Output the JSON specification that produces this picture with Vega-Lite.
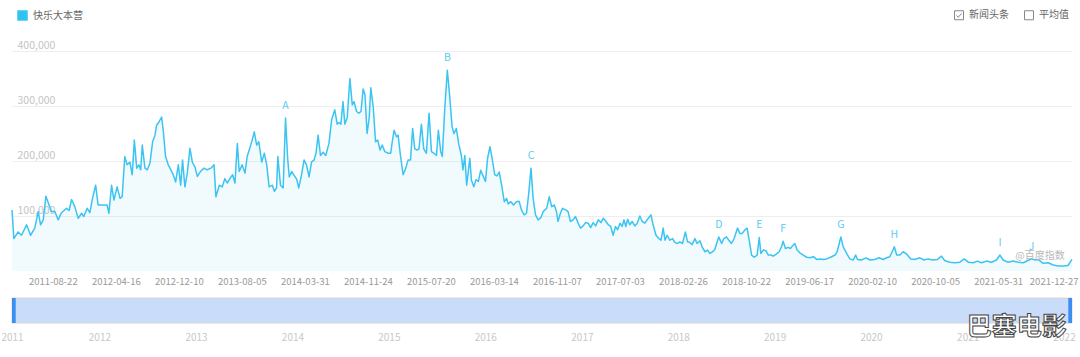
{
  "$schema": "https://vega.github.io/schema/vega-lite/v6.json",
  "background": "white",
  "padding": {"left": 0, "top": 10, "right": 0, "bottom": 0},
  "config": {
    "font": "Noto Sans CJK SC",
    "view": {"stroke": null},
    "concat": {"spacing": 11}
  },
  "resolve": {"scale": {"x": "independent", "y": "independent"}},
  "datasets": {
    "weekly": [
      {"date":"2011-03-21","value":111000},{"date":"2011-03-28","value":59000},{"date":"2011-04-13","value":71000},{"date":"2011-04-26","value":65000},{"date":"2011-05-15","value":84000},{"date":"2011-05-30","value":65000},{"date":"2011-06-15","value":78000},{"date":"2011-06-28","value":108000},{"date":"2011-07-07","value":84000},{"date":"2011-07-17","value":93000},{"date":"2011-07-27","value":136000},{"date":"2011-08-08","value":120000},{"date":"2011-08-17","value":108000},{"date":"2011-08-30","value":108000},{"date":"2011-09-11","value":93000},{"date":"2011-09-24","value":106000},{"date":"2011-10-13","value":114000},{"date":"2011-10-23","value":110000},{"date":"2011-11-01","value":130000},{"date":"2011-11-13","value":117000},{"date":"2011-11-26","value":96000},{"date":"2011-12-09","value":105000},{"date":"2011-12-17","value":99000},{"date":"2011-12-30","value":114000},
      {"date":"2012-01-09","value":106000},{"date":"2012-01-19","value":132000},{"date":"2012-01-31","value":156000},{"date":"2012-02-09","value":120000},{"date":"2012-02-28","value":120000},{"date":"2012-03-14","value":120000},{"date":"2012-03-21","value":105000},{"date":"2012-03-31","value":156000},{"date":"2012-04-09","value":129000},{"date":"2012-04-21","value":153000},{"date":"2012-05-02","value":132000},{"date":"2012-05-10","value":135000},{"date":"2012-05-20","value":208000},{"date":"2012-05-29","value":193000},{"date":"2012-06-08","value":198000},{"date":"2012-06-17","value":175000},{"date":"2012-06-25","value":238000},{"date":"2012-07-04","value":187000},{"date":"2012-07-12","value":193000},{"date":"2012-07-19","value":184000},{"date":"2012-07-25","value":229000},{"date":"2012-08-04","value":187000},{"date":"2012-08-13","value":184000},{"date":"2012-08-23","value":196000},{"date":"2012-09-02","value":235000},{"date":"2012-09-11","value":247000},{"date":"2012-09-17","value":265000},{"date":"2012-09-26","value":271000},{"date":"2012-10-06","value":280000},{"date":"2012-10-12","value":256000},{"date":"2012-10-21","value":208000},{"date":"2012-10-31","value":193000},{"date":"2012-11-10","value":184000},{"date":"2012-11-19","value":175000},{"date":"2012-11-28","value":162000},{"date":"2012-12-08","value":193000},{"date":"2012-12-17","value":156000},{"date":"2012-12-24","value":202000},
      {"date":"2013-01-02","value":153000},{"date":"2013-01-11","value":178000},{"date":"2013-01-21","value":223000},{"date":"2013-01-30","value":198000},{"date":"2013-02-09","value":189000},{"date":"2013-02-18","value":172000},{"date":"2013-03-02","value":181000},{"date":"2013-03-15","value":187000},{"date":"2013-03-27","value":184000},{"date":"2013-04-10","value":187000},{"date":"2013-04-22","value":193000},{"date":"2013-04-29","value":135000},{"date":"2013-05-12","value":156000},{"date":"2013-05-23","value":153000},{"date":"2013-06-02","value":168000},{"date":"2013-06-11","value":160000},{"date":"2013-06-21","value":168000},{"date":"2013-07-01","value":175000},{"date":"2013-07-10","value":160000},{"date":"2013-07-19","value":232000},{"date":"2013-07-26","value":181000},{"date":"2013-08-06","value":193000},{"date":"2013-08-17","value":178000},{"date":"2013-08-25","value":208000},{"date":"2013-09-04","value":223000},{"date":"2013-09-13","value":238000},{"date":"2013-09-21","value":253000},{"date":"2013-09-30","value":229000},{"date":"2013-10-08","value":235000},{"date":"2013-10-19","value":198000},{"date":"2013-10-29","value":214000},{"date":"2013-11-07","value":193000},{"date":"2013-11-16","value":153000},{"date":"2013-11-28","value":156000},{"date":"2013-12-06","value":145000},{"date":"2013-12-14","value":151000},{"date":"2013-12-19","value":208000},{"date":"2013-12-29","value":156000},
      {"date":"2014-01-08","value":151000},{"date":"2014-01-17","value":278000},{"date":"2014-01-25","value":205000},{"date":"2014-01-31","value":171000},{"date":"2014-02-09","value":181000},{"date":"2014-02-18","value":174000},{"date":"2014-02-28","value":167000},{"date":"2014-03-08","value":151000},{"date":"2014-03-18","value":174000},{"date":"2014-03-28","value":202000},{"date":"2014-04-06","value":193000},{"date":"2014-04-16","value":171000},{"date":"2014-04-25","value":198000},{"date":"2014-05-05","value":202000},{"date":"2014-05-12","value":214000},{"date":"2014-05-20","value":247000},{"date":"2014-05-29","value":210000},{"date":"2014-06-08","value":216000},{"date":"2014-06-18","value":210000},{"date":"2014-06-30","value":232000},{"date":"2014-07-10","value":275000},{"date":"2014-07-22","value":293000},{"date":"2014-07-31","value":267000},{"date":"2014-08-07","value":270000},{"date":"2014-08-14","value":267000},{"date":"2014-08-22","value":308000},{"date":"2014-08-29","value":267000},{"date":"2014-09-07","value":279000},{"date":"2014-09-17","value":350000},{"date":"2014-09-26","value":302000},{"date":"2014-10-03","value":308000},{"date":"2014-10-12","value":290000},{"date":"2014-10-21","value":287000},{"date":"2014-10-29","value":290000},{"date":"2014-11-06","value":331000},{"date":"2014-11-13","value":320000},{"date":"2014-11-21","value":250000},{"date":"2014-11-29","value":279000},{"date":"2014-12-05","value":333000},{"date":"2014-12-14","value":299000},{"date":"2014-12-23","value":235000},{"date":"2014-12-31","value":238000},
      {"date":"2015-01-09","value":220000},{"date":"2015-01-17","value":229000},{"date":"2015-01-27","value":217000},{"date":"2015-02-09","value":214000},{"date":"2015-02-18","value":214000},{"date":"2015-02-24","value":235000},{"date":"2015-03-03","value":256000},{"date":"2015-03-12","value":244000},{"date":"2015-03-18","value":247000},{"date":"2015-03-27","value":210000},{"date":"2015-04-06","value":175000},{"date":"2015-04-16","value":187000},{"date":"2015-04-25","value":202000},{"date":"2015-05-04","value":202000},{"date":"2015-05-12","value":259000},{"date":"2015-05-20","value":222000},{"date":"2015-05-29","value":220000},{"date":"2015-06-05","value":222000},{"date":"2015-06-14","value":267000},{"date":"2015-06-23","value":222000},{"date":"2015-07-03","value":214000},{"date":"2015-07-13","value":287000},{"date":"2015-07-22","value":217000},{"date":"2015-08-01","value":214000},{"date":"2015-08-10","value":210000},{"date":"2015-08-17","value":256000},{"date":"2015-08-26","value":217000},{"date":"2015-09-01","value":208000},{"date":"2015-09-10","value":293000},{"date":"2015-09-20","value":365000},{"date":"2015-09-29","value":317000},{"date":"2015-10-08","value":262000},{"date":"2015-10-15","value":250000},{"date":"2015-10-24","value":259000},{"date":"2015-11-02","value":231000},{"date":"2015-11-12","value":210000},{"date":"2015-11-18","value":184000},{"date":"2015-11-25","value":210000},{"date":"2015-12-02","value":156000},{"date":"2015-12-14","value":205000},{"date":"2015-12-20","value":165000},{"date":"2015-12-29","value":153000},
      {"date":"2016-01-06","value":166000},{"date":"2016-01-15","value":163000},{"date":"2016-01-24","value":183000},{"date":"2016-02-02","value":173000},{"date":"2016-02-11","value":163000},{"date":"2016-02-19","value":205000},{"date":"2016-02-28","value":226000},{"date":"2016-03-07","value":205000},{"date":"2016-03-17","value":175000},{"date":"2016-03-26","value":173000},{"date":"2016-04-03","value":180000},{"date":"2016-04-12","value":156000},{"date":"2016-04-22","value":126000},{"date":"2016-05-01","value":132000},{"date":"2016-05-07","value":122000},{"date":"2016-05-17","value":126000},{"date":"2016-05-27","value":120000},{"date":"2016-06-07","value":126000},{"date":"2016-06-17","value":127000},{"date":"2016-06-26","value":111000},{"date":"2016-07-06","value":102000},{"date":"2016-07-15","value":105000},{"date":"2016-07-24","value":144000},{"date":"2016-08-01","value":187000},{"date":"2016-08-09","value":132000},{"date":"2016-08-18","value":102000},{"date":"2016-08-28","value":93000},{"date":"2016-09-07","value":97000},{"date":"2016-09-16","value":108000},{"date":"2016-09-29","value":114000},{"date":"2016-10-09","value":135000},{"date":"2016-10-18","value":117000},{"date":"2016-10-28","value":120000},{"date":"2016-11-05","value":108000},{"date":"2016-11-11","value":90000},{"date":"2016-11-20","value":105000},{"date":"2016-11-28","value":114000},{"date":"2016-12-10","value":111000},{"date":"2016-12-19","value":108000},{"date":"2016-12-28","value":90000},
      {"date":"2017-01-07","value":93000},{"date":"2017-01-16","value":99000},{"date":"2017-01-26","value":87000},{"date":"2017-02-04","value":78000},{"date":"2017-02-14","value":82000},{"date":"2017-02-23","value":88000},{"date":"2017-03-05","value":87000},{"date":"2017-03-14","value":79000},{"date":"2017-03-24","value":88000},{"date":"2017-04-02","value":82000},{"date":"2017-04-12","value":93000},{"date":"2017-04-22","value":88000},{"date":"2017-05-01","value":96000},{"date":"2017-05-11","value":90000},{"date":"2017-05-20","value":84000},{"date":"2017-05-29","value":81000},{"date":"2017-06-07","value":65000},{"date":"2017-06-16","value":81000},{"date":"2017-06-24","value":75000},{"date":"2017-07-03","value":87000},{"date":"2017-07-11","value":81000},{"date":"2017-07-18","value":93000},{"date":"2017-07-25","value":81000},{"date":"2017-08-01","value":94000},{"date":"2017-08-09","value":84000},{"date":"2017-08-18","value":90000},{"date":"2017-08-28","value":82000},{"date":"2017-09-06","value":87000},{"date":"2017-09-16","value":100000},{"date":"2017-09-25","value":90000},{"date":"2017-10-05","value":87000},{"date":"2017-10-15","value":94000},{"date":"2017-10-28","value":102000},{"date":"2017-11-05","value":84000},{"date":"2017-11-16","value":65000},{"date":"2017-11-27","value":59000},{"date":"2017-12-05","value":56000},{"date":"2017-12-13","value":78000},{"date":"2017-12-20","value":56000},{"date":"2017-12-28","value":65000},
      {"date":"2018-01-07","value":56000},{"date":"2018-01-18","value":59000},{"date":"2018-01-26","value":52000},{"date":"2018-02-05","value":50000},{"date":"2018-02-14","value":53000},{"date":"2018-02-24","value":50000},{"date":"2018-03-07","value":71000},{"date":"2018-03-15","value":53000},{"date":"2018-03-24","value":52000},{"date":"2018-04-01","value":48000},{"date":"2018-04-12","value":59000},{"date":"2018-04-20","value":50000},{"date":"2018-05-01","value":55000},{"date":"2018-05-09","value":44000},{"date":"2018-05-20","value":35000},{"date":"2018-05-30","value":38000},{"date":"2018-06-07","value":32000},{"date":"2018-06-18","value":35000},{"date":"2018-06-26","value":39000},{"date":"2018-07-03","value":50000},{"date":"2018-07-11","value":62000},{"date":"2018-07-22","value":50000},{"date":"2018-07-30","value":59000},{"date":"2018-08-09","value":62000},{"date":"2018-08-18","value":56000},{"date":"2018-08-28","value":50000},{"date":"2018-09-07","value":59000},{"date":"2018-09-20","value":78000},{"date":"2018-09-29","value":68000},{"date":"2018-10-07","value":68000},{"date":"2018-10-18","value":75000},{"date":"2018-10-26","value":78000},{"date":"2018-11-03","value":56000},{"date":"2018-11-12","value":29000},{"date":"2018-11-22","value":25000},{"date":"2018-12-03","value":29000},{"date":"2018-12-11","value":61000},{"date":"2018-12-17","value":32000},{"date":"2018-12-26","value":38000},
      {"date":"2019-01-05","value":37000},{"date":"2019-01-14","value":29000},{"date":"2019-01-24","value":29000},{"date":"2019-02-02","value":27000},{"date":"2019-02-14","value":31000},{"date":"2019-02-24","value":35000},{"date":"2019-03-05","value":44000},{"date":"2019-03-11","value":54000},{"date":"2019-03-20","value":41000},{"date":"2019-03-30","value":43000},{"date":"2019-04-08","value":41000},{"date":"2019-04-18","value":47000},{"date":"2019-04-24","value":50000},{"date":"2019-05-03","value":38000},{"date":"2019-05-13","value":33000},{"date":"2019-05-26","value":29000},{"date":"2019-06-08","value":25000},{"date":"2019-06-20","value":24000},{"date":"2019-07-03","value":26000},{"date":"2019-07-16","value":21000},{"date":"2019-07-28","value":22000},{"date":"2019-08-09","value":21000},{"date":"2019-08-22","value":22000},{"date":"2019-09-10","value":26000},{"date":"2019-09-23","value":29000},{"date":"2019-10-01","value":35000},{"date":"2019-10-09","value":50000},{"date":"2019-10-15","value":62000},{"date":"2019-10-24","value":44000},{"date":"2019-11-06","value":32000},{"date":"2019-11-18","value":22000},{"date":"2019-12-01","value":20000},{"date":"2019-12-10","value":29000},{"date":"2019-12-17","value":21000},
      {"date":"2020-01-01","value":20000},{"date":"2020-01-18","value":24000},{"date":"2020-02-02","value":20000},{"date":"2020-02-20","value":21000},{"date":"2020-03-07","value":24000},{"date":"2020-03-23","value":21000},{"date":"2020-04-05","value":24000},{"date":"2020-04-17","value":26000},{"date":"2020-04-26","value":35000},{"date":"2020-05-04","value":44000},{"date":"2020-05-13","value":29000},{"date":"2020-05-25","value":29000},{"date":"2020-06-06","value":35000},{"date":"2020-06-19","value":31000},{"date":"2020-07-05","value":22000},{"date":"2020-07-20","value":21000},{"date":"2020-08-08","value":24000},{"date":"2020-08-24","value":20000},{"date":"2020-09-08","value":22000},{"date":"2020-09-27","value":20000},{"date":"2020-10-14","value":21000},{"date":"2020-10-29","value":27000},{"date":"2020-11-10","value":19000},{"date":"2020-11-29","value":16000},{"date":"2020-12-18","value":15000},
      {"date":"2021-01-07","value":16000},{"date":"2021-01-23","value":22000},{"date":"2021-02-07","value":16000},{"date":"2021-02-26","value":15000},{"date":"2021-03-14","value":18000},{"date":"2021-03-29","value":15000},{"date":"2021-04-17","value":18000},{"date":"2021-05-06","value":16000},{"date":"2021-05-25","value":20000},{"date":"2021-06-07","value":29000},{"date":"2021-06-19","value":20000},{"date":"2021-07-08","value":16000},{"date":"2021-07-27","value":18000},{"date":"2021-08-15","value":16000},{"date":"2021-09-03","value":15000},{"date":"2021-09-21","value":19000},{"date":"2021-10-04","value":22000},{"date":"2021-10-17","value":20000},{"date":"2021-10-29","value":21000},{"date":"2021-11-17","value":14000},{"date":"2021-12-06","value":15000},{"date":"2021-12-25","value":11000},
      {"date":"2022-01-13","value":9000},{"date":"2022-02-01","value":9000},{"date":"2022-02-19","value":10000},{"date":"2022-03-06","value":21000}
    ],
    "events": [
      {"date":"2014-01-17","value":278000,"label":"A"},
      {"date":"2015-09-20","value":365000,"label":"B"},
      {"date":"2016-08-01","value":187000,"label":"C"},
      {"date":"2018-07-11","value":62000,"label":"D"},
      {"date":"2018-12-11","value":61000,"label":"E"},
      {"date":"2019-03-11","value":54000,"label":"F"},
      {"date":"2019-10-15","value":62000,"label":"G"},
      {"date":"2020-05-04","value":44000,"label":"H"},
      {"date":"2021-06-07","value":29000,"label":"I"},
      {"date":"2021-10-04","value":22000,"label":"J"}
    ],
    "toggles": [{"k":"新闻头条"},{"k":"平均值"}],
    "slider": [{"s":"2011-02-04","e":"2022-01-31"}],
    "handles": [{"s":"2011-02-04","e":"2011-02-18"},{"s":"2022-01-17","e":"2022-01-31"}]
  },
  "vconcat": [
    {
      "width": 1060,
      "height": 220,
      "layer": [
        {
          "data": {"name": "weekly"},
          "mark": {"type": "area", "fill": "#3bc4f2", "fillOpacity": 0.07, "strokeWidth": 0},
          "encoding": {
            "x": {
              "field": "date", "type": "temporal",
              "scale": {"type": "utc", "domain": [{"year":2011,"month":3,"date":21,"utc":true},{"year":2022,"month":3,"date":6,"utc":true}]},
              "axis": {
                "title": null, "grid": false, "domain": false, "ticks": false, "tickSize": 0,
                "format": "%Y-%m-%d", "labelColor": "#999999", "labelFontSize": 9.5, "labelPadding": 5,
                "labelFlush": false, "labelOverlap": false,
                "values": [
                  {"year":2011,"month":8,"date":22,"utc":true},{"year":2012,"month":4,"date":16,"utc":true},{"year":2012,"month":12,"date":10,"utc":true},{"year":2013,"month":8,"date":5,"utc":true},{"year":2014,"month":3,"date":31,"utc":true},{"year":2014,"month":11,"date":24,"utc":true},{"year":2015,"month":7,"date":20,"utc":true},{"year":2016,"month":3,"date":14,"utc":true},{"year":2016,"month":11,"date":7,"utc":true},{"year":2017,"month":7,"date":3,"utc":true},{"year":2018,"month":2,"date":26,"utc":true},{"year":2018,"month":10,"date":22,"utc":true},{"year":2019,"month":6,"date":17,"utc":true},{"year":2020,"month":2,"date":10,"utc":true},{"year":2020,"month":10,"date":5,"utc":true},{"year":2021,"month":5,"date":31,"utc":true},{"year":2021,"month":12,"date":27,"utc":true}
                ]
              }
            },
            "y": {
              "field": "value", "type": "quantitative",
              "scale": {"domain": [0, 400000]},
              "axis": {
                "title": null, "domain": false, "ticks": false, "tickSize": 0,
                "values": [100000, 200000, 300000, 400000], "format": ",d",
                "grid": true, "gridColor": "#eeeeee", "gridWidth": 1,
                "labelAlign": "left", "labelBaseline": "alphabetic", "labelPadding": -5, "labelOffset": -3,
                "labelColor": "#c4c4c4", "labelFontSize": 10.5
              }
            }
          }
        },
        {
          "data": {"name": "weekly"},
          "mark": {"type": "line", "strokeWidth": 1.5, "strokeJoin": "round"},
          "encoding": {
            "x": {"field": "date", "type": "temporal"},
            "y": {"field": "value", "type": "quantitative"},
            "color": {
              "datum": "快乐大本营", "type": "nominal",
              "scale": {"range": ["#3bc4f2"]},
              "legend": {
                "orient": "none", "legendX": 5, "legendY": -41, "title": null, "padding": 0,
                "symbolType": "square", "symbolSize": 81, "labelFontSize": 10, "labelColor": "#666666", "labelOffset": 5,
                "encode": {"symbols": {"update": {"fill": {"value": "#2ec2f3"}, "fillOpacity": {"value": 1}, "stroke": {"value": "transparent"}, "opacity": {"value": 1}}}}
              }
            }
          }
        },
        {
          "data": {"name": "events"},
          "mark": {"type": "text", "dy": -12, "color": "#5ccbf2", "fontSize": 10.5, "align": "center", "baseline": "middle"},
          "encoding": {
            "x": {"field": "date", "type": "temporal"},
            "y": {"field": "value", "type": "quantitative"},
            "text": {"field": "label"}
          }
        },
        {
          "data": {"values": [{"date": "2021-11-05", "value": 27000, "t": "@百度指数"}]},
          "mark": {"type": "text", "color": "#b8b8b8", "fontSize": 10, "align": "center", "baseline": "middle"},
          "encoding": {
            "x": {"field": "date", "type": "temporal"},
            "y": {"field": "value", "type": "quantitative"},
            "text": {"field": "t"}
          }
        },
        {
          "data": {"name": "toggles"},
          "mark": {"type": "point", "opacity": 0, "color": "#888888", "filled": false},
          "encoding": {
            "shape": {
              "field": "k", "type": "nominal",
              "scale": {"domain": ["新闻头条", "平均值"], "range": ["M-1,-1H1V1H-1Z M-0.55,0.05L-0.15,0.45L0.55,-0.4", "M-1,-1H1V1H-1Z"]},
              "legend": {
                "orient": "none", "legendX": 942, "legendY": -41, "direction": "horizontal", "title": null, "padding": 0,
                "symbolSize": 81, "columnPadding": 13, "labelOffset": 5, "labelFontSize": 10, "labelColor": "#666666",
                "symbolStrokeColor": "#888888", "symbolFillColor": "transparent", "symbolStrokeWidth": 1,
                "encode": {"symbols": {"update": {"fill": {"value": "transparent"}, "stroke": {"value": "#888888"}, "strokeWidth": {"value": 1}, "opacity": {"value": 1}}}}
              }
            }
          }
        }
      ]
    },
    {
      "width": 1060,
      "height": 25,
      "layer": [
        {
          "data": {"name": "slider"},
          "mark": {"type": "rect", "fill": "#c9dcf9", "stroke": "#d6d6d6", "strokeWidth": 1},
          "encoding": {
            "x": {
              "field": "s", "type": "temporal",
              "scale": {"type": "utc", "domain": [{"year":2011,"month":2,"date":4,"utc":true},{"year":2022,"month":1,"date":31,"utc":true}]},
              "axis": {
                "title": null, "grid": false, "domain": false, "ticks": false, "tickSize": 0,
                "format": "%Y", "labelColor": "#c8c8c8", "labelFontSize": 10, "labelPadding": 9,
                "labelFlush": false, "labelOverlap": false,
                "values": [{"year":2011,"month":2,"date":4,"utc":true},{"year":2012,"utc":true},{"year":2013,"utc":true},{"year":2014,"utc":true},{"year":2015,"utc":true},{"year":2016,"utc":true},{"year":2017,"utc":true},{"year":2018,"utc":true},{"year":2019,"utc":true},{"year":2020,"utc":true},{"year":2021,"utc":true},{"year":2022,"utc":true}]
              }
            },
            "x2": {"field": "e"},
            "y": {"datum": 0, "type": "quantitative", "scale": {"domain": [0, 1]}, "axis": null},
            "y2": {"datum": 1}
          }
        },
        {
          "data": {"name": "handles"},
          "mark": {"type": "rect", "fill": "#3b8ef0"},
          "encoding": {
            "x": {"field": "s", "type": "temporal"},
            "x2": {"field": "e"},
            "y": {"datum": 0, "type": "quantitative", "scale": {"domain": [0, 1]}, "axis": null},
            "y2": {"datum": 1}
          }
        },
        {
          "data": {"values": [{"date": "2021-07-06", "v": -0.15, "t": "巴塞电影"}]},
          "mark": {"type": "text", "fontSize": 25, "fontWeight": "bold", "fill": "#ffffff", "stroke": "#444444", "strokeWidth": 1, "align": "center", "baseline": "middle"},
          "encoding": {
            "x": {"field": "date", "type": "temporal"},
            "y": {"field": "v", "type": "quantitative", "scale": {"domain": [0, 1]}, "axis": null},
            "text": {"field": "t"}
          }
        }
      ]
    }
  ]
}
